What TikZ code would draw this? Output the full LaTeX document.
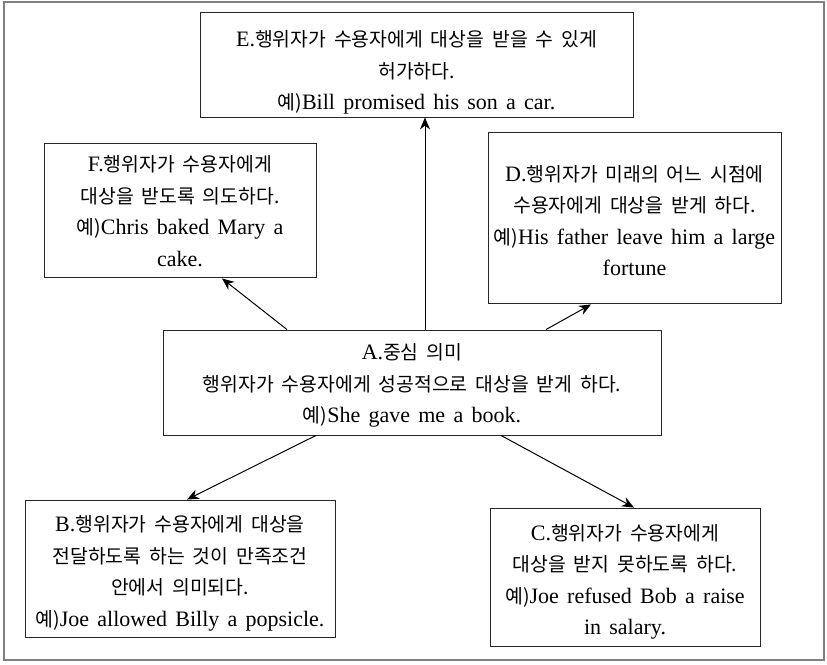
\documentclass[tikz,border=0pt]{standalone}
\usepackage{fontspec}
\setmainfont{Liberation Serif}[WordSpace=1.5]
\newfontfamily\krfont{Noto Sans CJK KR}[Scale=0.88,WordSpace=1.8]
\newcommand\kr[1]{{\krfont #1}}
\usetikzlibrary{arrows.meta,calc}
\begin{document}
\begin{tikzpicture}[x=1pt,y=-1pt,
  box/.style={draw=black!85,line width=0.9pt,inner sep=0pt},
  txt/.style={align=center,inner sep=0pt,font=\fontsize{22}{31.5}\selectfont},
  link/.style={line width=1pt,-{Stealth[length=12pt,width=10pt]}}]
\useasboundingbox (0,0) rectangle (827,664);
\draw[gray,line width=2.2pt] (4,2) rectangle (824,660);
\node[box,minimum width=433pt,minimum height=105pt] (E) at (416.5,64.5) {};
\node[txt] (Et) at ($(E)+(0,8)$)
  {E.\kr{행위자가 수용자에게 대상을 받을 수 있게}\\\kr{허가하다.}\\\kr{예)}Bill promised his son a car.};
\node[box,minimum width=272pt,minimum height=134pt] (F) at (180,210) {};
\node[txt] (Ft) at ($(F)+(0,1)$)
  {F.\kr{행위자가 수용자에게}\\\kr{대상을 받도록 의도하다.}\\\kr{예)}Chris baked Mary a\\cake.};
\node[box,minimum width=293pt,minimum height=171pt] (D) at (634.5,217.5) {};
\node[txt] (Dt) at ($(D)+(0,3)$)
  {D.\kr{행위자가 미래의 어느 시점에}\\\kr{수용자에게 대상을 받게 하다.}\\\kr{예)}His father leave him a large\\fortune};
\node[box,minimum width=498pt,minimum height=105pt] (A) at (412,382.5) {};
\node[txt] (At) at ($(A)+(0,3)$)
  {A.\kr{중심 의미}\\\kr{행위자가 수용자에게 성공적으로 대상을 받게 하다.}\\\kr{예)}She gave me a book.};
\node[box,minimum width=310pt,minimum height=137pt] (B) at (180,568.5) {};
\node[txt] (Bt) at ($(B)+(0,5)$)
  {B.\kr{행위자가 수용자에게 대상을}\\\kr{전달하도록 하는 것이 만족조건}\\\kr{안에서 의미되다.}\\\kr{예)}Joe allowed Billy a popsicle.};
\node[box,minimum width=270pt,minimum height=138pt] (C) at (625,577) {};
\node[txt] (Ct) at ($(C)+(0,5)$)
  {C.\kr{행위자가 수용자에게}\\\kr{대상을 받지 못하도록 하다.}\\\kr{예)}Joe refused Bob a raise\\in salary.};
\draw[link] ($(A.north)+(13,0)$) -- ($(E.south)+(8.5,0)$);
\draw[link] ($(A.north)+(-125,0)$) -- ($(F.south)+(42,1)$);
\draw[link] ($(A.north)+(134,0)$) -- ($(D.south)+(-43.5,1)$);
\draw[link] ($(A.south)+(-96,0)$) -- ($(B.north)+(7,0)$);
\draw[link] ($(A.south)+(89,0)$) -- ($(C.north)+(9,0)$);
\end{tikzpicture}
\end{document}
